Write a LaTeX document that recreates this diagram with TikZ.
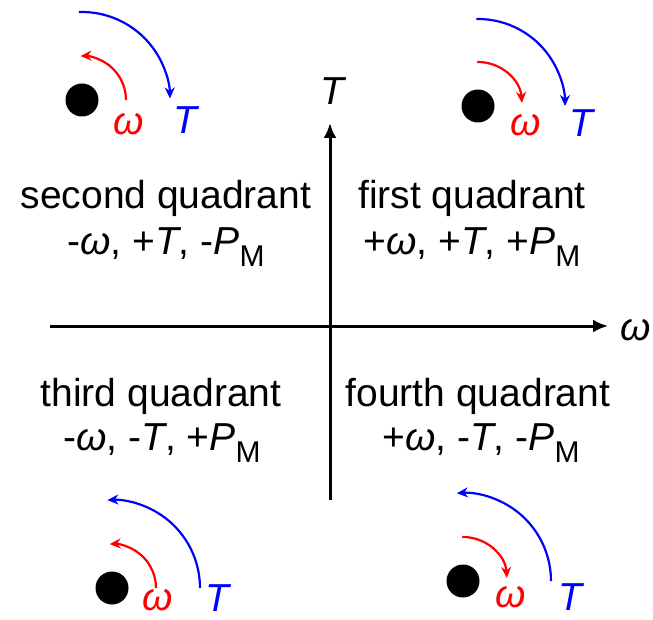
\documentclass[tikz,border=0pt]{standalone}
\usepackage{fontspec}
\setmainfont{Liberation Sans}
\usetikzlibrary{arrows.meta}
\newcommand\om{\textit{ω}}
\newcommand\tq{\textit{T}}
\newcommand\PMsub{\textit{P}\raisebox{-12pt}{\fontsize{30}{30}\selectfont M}}
\begin{document}
\begin{tikzpicture}[x=1pt,y=1pt,
  lab/.style={inner sep=0pt, anchor=base, font=\fontsize{39}{46}\selectfont},
  axisline/.style={line width=3pt, -{Latex[length=15pt,width=13pt]}},
  warc/.style={red, line width=2.2pt, -{Stealth[length=11pt,width=10pt]}},
  tarc/.style={blue, line width=2.2pt, -{Stealth[length=11pt,width=10pt]}},
  dotc/.style={circle, fill=black, minimum size=33pt, inner sep=0pt},
  wlab/.style={lab, text=red},
  tlab/.style={lab, text=blue}]
\useasboundingbox (0,-620) rectangle (653,0);
% axes
\coordinate (xl) at (50,-326);
\coordinate (xr) at (608,-326);
\coordinate (yb) at (330,-500);
\coordinate (yt) at (330,-123);
\draw[axisline] (xl) -- (xr);
\draw[axisline] (yb) -- (yt);
\node[lab] (Tax) at (334,-105) {\tq};
\node[lab] (wax) at (636,-340) {\om};
% quadrant texts
\node[lab] (q2a) at (166,-209) {second quadrant};
\node[lab] (q2b) at (166,-255) {-\om, +\tq, -\PMsub};
\node[lab] (q1a) at (472,-209) {first quadrant};
\node[lab] (q1b) at (472,-255) {+\om, +\tq, +\PMsub};
\node[lab] (q3a) at (161,-406) {third quadrant};
\node[lab] (q3b) at (162,-450) {-\om, -\tq, +\PMsub};
\node[lab] (q4a) at (478,-406) {fourth quadrant};
\node[lab] (q4b) at (481,-450) {+\om, -\tq, -\PMsub};
% top-left (second quadrant)
\node[dotc] (d2) at (82,-100) {};
\draw[warc] ([shift={(0:44)}]d2.center) arc[start angle=0, end angle=92, radius=44];
\draw[tarc] ([shift={(92:88)}]d2.center) arc[start angle=92, end angle=1, radius=88];
\node[wlab] (w2) at (129,-135) {\om};
\node[tlab] (t2) at (187,-134) {\tq};
% top-right (first quadrant)
\node[dotc] (d1) at (478,-106) {};
\draw[warc] ([shift={(91:44)}]d1.center) arc[start angle=91, end angle=4, radius=44];
\draw[tarc] ([shift={(91:87)}]d1.center) arc[start angle=91, end angle=0, radius=87];
\node[wlab] (w1) at (526,-136) {\om};
\node[tlab] (t1) at (583,-137) {\tq};
% bottom-left (third quadrant)
\node[dotc] (d3) at (112,-588) {};
\draw[warc] ([shift={(0:44)}]d3.center) arc[start angle=0, end angle=93, radius=44];
\draw[tarc] ([shift={(0:88)}]d3.center) arc[start angle=0, end angle=93, radius=88];
\node[wlab] (w3) at (158,-610) {\om};
\node[tlab] (t3) at (219,-611) {\tq};
% bottom-right (fourth quadrant)
\node[dotc] (d4) at (463,-581) {};
\draw[warc] ([shift={(91:44)}]d4.center) arc[start angle=91, end angle=4, radius=44];
\draw[tarc] ([shift={(0:88)}]d4.center) arc[start angle=0, end angle=94, radius=88];
\node[wlab] (w4) at (511,-607) {\om};
\node[tlab] (t4) at (572,-610) {\tq};
\end{tikzpicture}
\end{document}
